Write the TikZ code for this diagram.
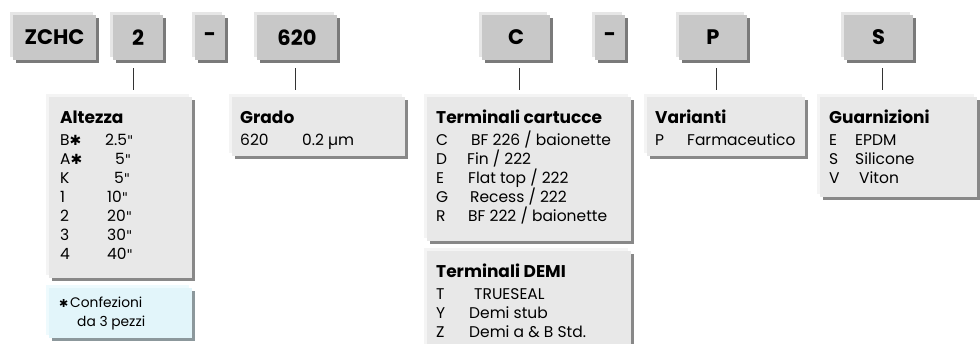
\documentclass[tikz,border=0pt]{standalone}
\usepackage{fontspec}
\setmainfont{Poppins}
\newfontfamily\symf{DejaVu Sans}
\usetikzlibrary{shadows}
\definecolor{topfill}{HTML}{C8C8C8}
\definecolor{toprim}{HTML}{E6E6E6}
\definecolor{topshadow}{HTML}{7A7A7A}
\definecolor{lowfill}{HTML}{E8E8E8}
\definecolor{lowrim}{HTML}{F4F4F4}
\definecolor{lowshadow}{HTML}{888888}
\definecolor{notefill}{HTML}{E2F5FA}
\definecolor{noterim}{HTML}{EEFAFD}
\definecolor{noteshadow}{HTML}{8C989C}
\newcommand{\ttl}{\fontsize{17}{19}\selectfont\bfseries}
\newcommand{\st}{{\symf\fontsize{14}{19}\selectfont ✱}}
\newcommand{\inch}{{\symf\fontsize{13.5}{19}\selectfont "}}
\begin{document}
\begin{tikzpicture}[x=1pt,y=-1pt,
  topbox/.style={fill=topfill, inner sep=0pt, minimum height=45pt,
    font=\fontsize{21}{21}\selectfont\bfseries,
    general shadow={fill=toprim, shadow xshift=-3pt, shadow yshift=3pt},
    general shadow={fill=topshadow, shadow xshift=3pt, shadow yshift=-3pt}},
  lowbox/.style={fill=lowfill, inner sep=0pt,
    general shadow={fill=lowrim, shadow xshift=-3pt, shadow yshift=3pt},
    general shadow={fill=lowshadow, shadow xshift=3pt, shadow yshift=-3pt}},
  notebox/.style={fill=notefill, inner sep=0pt,
    general shadow={fill=noterim, shadow xshift=-3pt, shadow yshift=3pt},
    general shadow={fill=noteshadow, shadow xshift=3pt, shadow yshift=-3pt}},
  txt/.style={anchor=north west, inner sep=0pt, align=left,
    font=\fontsize{15.5}{19}\selectfont},
  conn/.style={draw=black!80, line width=0.8pt}]
\useasboundingbox (0,0) rectangle (980,344);
\clip (0,0) rectangle (980,344);
% top code boxes
\node[topbox, minimum width=83pt] (zchc) at (54.5,37.5) {ZCHC};
\node[topbox, minimum width=50pt] (b2) at (138,37.5) {2};
\node[topbox, minimum width=30pt] (d1) at (210,37.5) {-};
\node[topbox, minimum width=80pt] (b620) at (297,37.5) {620};
\node[topbox, minimum width=68pt] (bc) at (516,37.5) {C};
\node[topbox, minimum width=30pt] (d2) at (610,37.5) {-};
\node[topbox, minimum width=68pt] (bp) at (713,37.5) {P};
\node[topbox, minimum width=69pt] (bs) at (878.5,37.5) {S};
% lower boxes
\node[lowbox, minimum width=143pt, minimum height=181pt] (alt) at (120.5,187.5) {};
\node[notebox, minimum width=143pt, minimum height=50pt] (note) at (120.5,313) {};
\node[lowbox, minimum width=173pt, minimum height=59pt] (grado) at (318.5,126.5) {};
\node[lowbox, minimum width=204pt, minimum height=144pt] (cart) at (529,169) {};
\node[lowbox, minimum width=204pt, minimum height=99pt] (demi) at (529,300.5) {};
\node[lowbox, minimum width=158pt, minimum height=59pt] (var) at (726,126.5) {};
\node[lowbox, minimum width=157pt, minimum height=100pt] (guar) at (898.5,147) {};
% connectors
\draw[conn] ([xshift=-5pt,yshift=-8pt]b2.south) -- ([xshift=-5pt,yshift=7pt]b2.south |- alt.north);
\draw[conn] ([xshift=-2pt,yshift=-8pt]b620.south) -- ([xshift=-2pt,yshift=7pt]b620.south |- grado.north);
\draw[conn] ([xshift=3pt,yshift=-8pt]bc.south) -- ([xshift=3pt,yshift=7pt]bc.south |- cart.north);
\draw[conn] ([xshift=3pt,yshift=-8pt]bp.south) -- ([xshift=3pt,yshift=7pt]bp.south |- var.north);
\draw[conn] ([xshift=3.5pt,yshift=-8pt]bs.south) -- ([xshift=3.5pt,yshift=7pt]bs.south |- guar.north);
% texts
\node[txt] (altt) at (60,110) {\rule{0pt}{13pt}{\ttl Altezza}\\[3pt]
  \makebox[45pt][l]{B\st}2.5\inch\\
  \makebox[55pt][l]{A\st}5\inch\\
  \makebox[54pt][l]{K}5\inch\\
  \makebox[47pt][l]{1}10\inch\\
  \makebox[47pt][l]{2}20\inch\\
  \makebox[47pt][l]{3}30\inch\\
  \makebox[47pt][l]{4}40\inch};
\node[txt, font=\fontsize{13.8}{19}\selectfont] (notet) at (59,297) {\rule{0pt}{10pt}\makebox[11pt][l]{\symf\fontsize{11}{11}\selectfont ✱}Confezioni\\
  \hspace*{18pt}da 3 pezzi};
\node[txt] (gradot) at (240,110) {\rule{0pt}{13pt}{\ttl Grado}\\[3pt]
  \makebox[62pt][l]{620}0.2 µm};
\node[txt] (cartt) at (436,110) {\rule{0pt}{13pt}{\ttl Terminali cartucce}\\[3pt]
  \makebox[35pt][l]{C}BF 226 / baionette\\
  \makebox[31pt][l]{D}Fin / 222\\
  \makebox[32pt][l]{E}Flat top / 222\\
  \makebox[34pt][l]{G}Recess / 222\\
  \makebox[32pt][l]{R}BF 222 / baionette};
\node[txt] (demit) at (436,264) {\rule{0pt}{13pt}{\ttl Terminali DEMI}\\[3pt]
  \makebox[38pt][l]{T}TRUESEAL\\
  \makebox[33pt][l]{Y}Demi stub\\
  \makebox[33pt][l]{Z}Demi a \& B Std.};
\node[txt] (vart) at (655,110) {\rule{0pt}{13pt}{\ttl Varianti}\\[3pt]
  \makebox[32pt][l]{P}Farmaceutico};
\node[txt] (guart) at (829,110) {\rule{0pt}{13pt}{\ttl Guarnizioni}\\[3pt]
  \makebox[26pt][l]{E}EPDM\\
  \makebox[26pt][l]{S}Silicone\\
  \makebox[30pt][l]{V}Viton};
\end{tikzpicture}
\end{document}
